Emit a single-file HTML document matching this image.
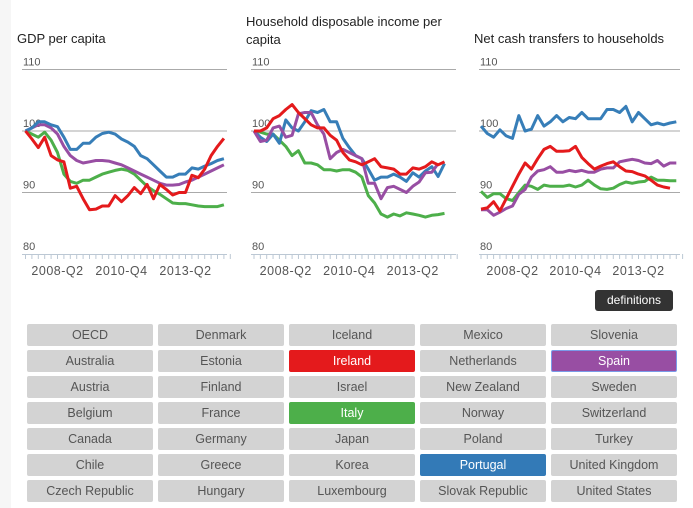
<!DOCTYPE html>
<html><head><meta charset="utf-8"><style>
body{margin:0;width:693px;height:508px;background:#fff;position:relative;overflow:hidden;font-family:"Liberation Sans",sans-serif}
.strip{position:absolute;left:0;top:0;width:11px;height:508px;background:#f6f6f6}
.title{position:absolute;font-size:13px;color:#222;line-height:18px}
.btn{position:absolute;width:126px;height:22px;line-height:22px;text-align:center;background:#d3d3d3;color:#555;font-size:12.5px;border-radius:2px;box-sizing:border-box}
.def{position:absolute;left:595px;top:290px;width:78px;height:21px;line-height:21px;background:#333;color:#fff;font-size:12px;text-align:center;border-radius:3px}
svg{position:absolute;left:0;top:0}
</style></head><body>
<div class="strip"></div>
<div class="title" style="left:17px;top:30px">GDP per capita</div>
<div class="title" style="left:246px;top:13px;width:210px">Household disposable income per capita</div>
<div class="title" style="left:474px;top:30px">Net cash transfers to households</div>
<svg id="chart" width="693" height="300"></svg>
<div class="def">definitions</div>
<div id="btns"></div>
<script>
const ticks=[110,100,90,80];
const xLabels=["2008-Q2","2010-Q4","2013-Q2"];
const xLabelIdx=[5,15,25];
const colors={Portugal:"#377eb8",Spain:"#984ea3",Italy:"#4daf4a",Ireland:"#e41a1c"};
const gdpPortugal=[100,100.5,101.5,101.5,101,100.7,99,97,97,98,98,99,99.6,99.8,99.5,98.7,98.2,97.5,96,95.5,94.5,93.5,92.5,92.5,93,93,94,93.8,94.3,94.7,95.2,95.5];
const gdpSpain=[100,100.5,101,101,100.5,99.5,97.5,96,95.2,94.8,95,95.2,95.2,95.1,94.8,94.5,94,93.5,93,92.5,92,91.5,91.2,91.2,91.3,91.7,92,92.5,93,93.5,94,94.5];
const gdpItaly=[100,99.5,99,99.8,98.5,96.5,93,91.8,91.5,92,92,92.5,93,93.3,93.6,93.8,93.6,93,92,91,90.3,89.7,89,88.3,88.2,88.2,88,87.8,87.7,87.7,87.7,88];
const gdpIreland=[100,98.7,97.3,99,96,95.3,95,90.7,91,89,87.2,87.3,87.8,87.8,89.5,88.5,89.5,90.8,89.8,91.3,89,91.3,90.5,89.6,90,90,92.8,92.4,93.8,96,97.5,98.8];
const hdiIreland=[100,100,100.5,102,102.5,103.5,104.3,103,102,101,100.5,100.5,99.3,98.5,96.5,95.3,95,94.5,95,95.5,94.2,94,93.8,93,93,94,93.8,94.2,95,94.5,95];
const hdiPortugal=[100,99,98.3,99.5,98,101.8,100.5,100,101.5,103.3,103,103.5,101.5,101.5,98.8,97.3,96,95.5,93.8,92,92.5,92.5,93,92.5,91.8,93.2,92.5,93.5,94.2,92.6,94.7];
const hdiSpain=[100,98.3,98.5,100.5,100.8,99,99.3,102.8,103,103,101,99.5,95.5,96.5,97,96.5,96,95.5,91.5,91.5,89,90.8,91,90.5,90,91,91.7,93.2,93.3,94.7];
const hdiItaly=[100,99.8,99.5,99.5,98.5,97.5,96,96.8,94.8,94.8,94.5,93.7,93.7,93.5,93.7,93.7,93.3,92.5,89.5,88.3,86.5,86,86.5,86.2,86.7,86.5,86.3,86,86.3,86.4,86.6];
const ntPortugal=[100.8,99.6,99,100.2,99.2,98.8,102.5,100,100.3,102.5,100.8,101.5,102.5,101.5,102.2,102,103,102,102,102,103.5,103.5,103,104,101.5,103,102,101,101.3,101,101.3,101.5];
const ntIreland=[87.3,87.5,88.5,87,89,91,93,94.8,93.8,95.5,97,97.5,96.7,96.7,96.8,97.5,95.7,94.7,93.8,94.3,94.7,95,94.2,93.5,93.4,93,92.7,92,91.2,90.9,90.7];
const ntSpain=[87.2,87.2,86.3,86.8,87.4,87.8,89.7,90.5,92.5,93.5,93.7,94.2,93.3,93.3,93.6,93.4,93.6,93.3,93.3,93.8,94,94,95,95.2,95.4,95.2,94.8,94.7,95.2,94.3,94.8,94.8];
const ntItaly=[90.2,89.2,89.8,89.8,89,88.7,90,91.2,91,90.5,91.2,91,91,91,91.2,90.9,91.2,92,91.2,90.6,90.5,90.7,91.3,91.7,91.5,91.7,91.8,92.5,92,92,91.9,91.9];
const panels=[
 {name:"gdp",x0:22,x1:227,d0:25.5,step:6.4,series:[["Italy",gdpItaly],["Spain",gdpSpain],["Portugal",gdpPortugal],["Ireland",gdpIreland]]},
 {name:"income",x0:251,x1:456,d0:254,step:6.35,series:[["Italy",hdiItaly],["Portugal",hdiPortugal],["Spain",hdiSpain],["Ireland",hdiIreland]]},
 {name:"transfers",x0:479,x1:680,d0:481,step:6.3,series:[["Italy",ntItaly],["Spain",ntSpain],["Ireland",ntIreland],["Portugal",ntPortugal]]}
];
const countries=["OECD","Australia","Austria","Belgium","Canada","Chile","Czech Republic","Denmark","Estonia","Finland","France","Germany","Greece","Hungary","Iceland","Ireland","Israel","Italy","Japan","Korea","Luxembourg","Mexico","Netherlands","New Zealand","Norway","Poland","Portugal","Slovak Republic","Slovenia","Spain","Sweden","Switzerland","Turkey","United Kingdom","United States"];
const NS="http://www.w3.org/2000/svg";
const svg=document.getElementById("chart");
function y(v){return 131-(v-100)*6.15;}
function mk(tag,attrs){const e=document.createElementNS(NS,tag);for(const k in attrs)e.setAttribute(k,attrs[k]);svg.appendChild(e);return e;}
panels.forEach(p=>{
 ticks.forEach(t=>{
  if(t!==80){const l=mk("line",{x1:p.x0,x2:p.x1,y1:y(t),y2:y(t),stroke:"#aaa","stroke-width":1});
  
  }
  const tx=mk("text",{x:p.x0+1,y:y(t)-4,"font-size":11,fill:"#555","font-family":"Liberation Sans"});
  tx.textContent=t;
  
  
 });
 const ax=mk("line",{x1:p.x0,x2:p.x1,y1:254.5,y2:254.5,stroke:"#bcc8d4","stroke-width":1});
 
 
 for(let i=0;i<33;i++){const tk=mk("line",{x1:p.d0+i*p.step,x2:p.d0+i*p.step,y1:254,y2:259,stroke:"#bcc8d4","stroke-width":1});
  
  }
 xLabels.forEach((lb,k)=>{const t=mk("text",{x:p.d0+xLabelIdx[k]*p.step,y:275,"font-size":12.5,fill:"#555","text-anchor":"middle","font-family":"Liberation Sans","letter-spacing":"0.5"});
  t.textContent=lb;
  
  });
 p.series.forEach(([c,vals])=>{
  const pts=vals.map((v,i)=>(p.d0+i*p.step).toFixed(1)+","+y(v).toFixed(1)).join(" ");
  const pl=mk("polyline",{points:pts,fill:"none",stroke:colors[c],"stroke-width":3,"stroke-linejoin":"round"});
  
  
 });
});
const sel={Ireland:"#e41a1c",Italy:"#4daf4a",Portugal:"#337ab7",Spain:"#984ea3"};
const bc=document.getElementById("btns");
countries.forEach((c,i)=>{
 const col=Math.floor(i/7),row=i%7;
 const d=document.createElement("div");
 d.className="btn";
 d.style.left=(27+col*131)+"px";
 d.style.top=(324+row*26)+"px";
 if(sel[c]){d.style.background=sel[c];d.style.color="#fff";}
 if(c==="Spain"){d.style.border="1px solid #7a9be8";d.style.lineHeight="20px";}
 d.textContent=c;
 
 
 bc.appendChild(d);
});
</script>
</body></html>
